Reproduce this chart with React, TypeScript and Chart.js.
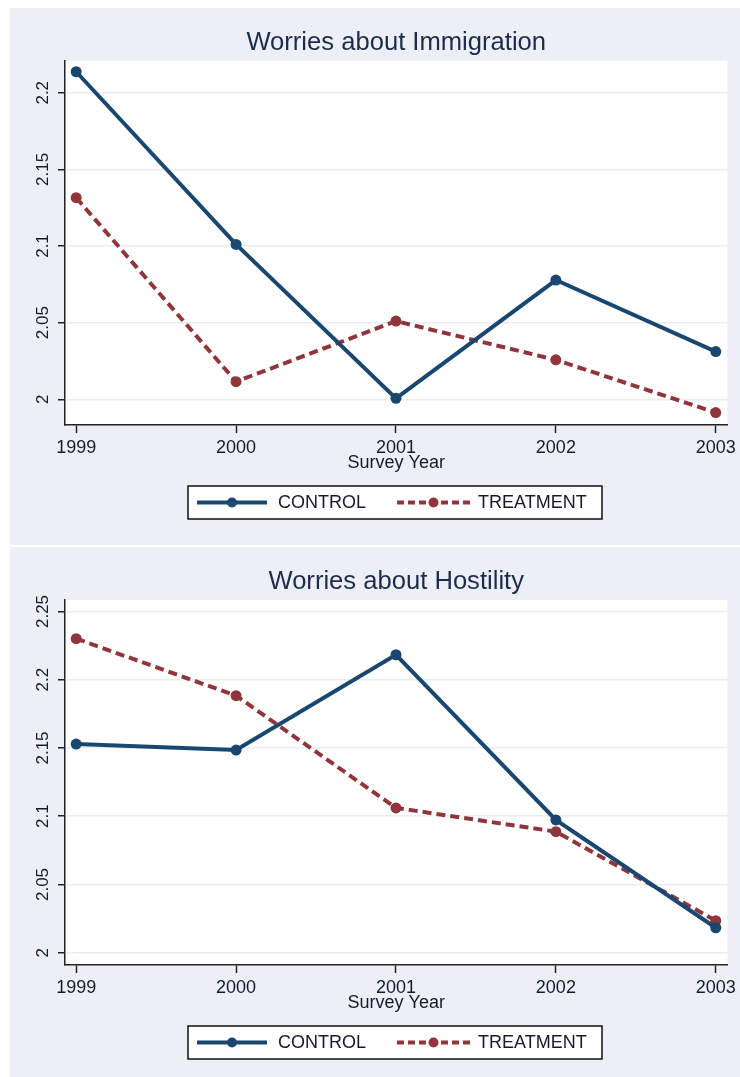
import React, { useEffect, useRef } from 'react';
import { Chart, registerables } from 'chart.js';

Chart.register(...registerables);

// ---------- data ----------
const years = [1999, 2000, 2001, 2002, 2003];
const yearTicks = [1999, 2000, 2001, 2002, 2003];
const seriesNames = ['CONTROL', 'TREATMENT'];

const immigrationControl = [2.2137, 2.101, 2.0006, 2.0778, 2.0311];
const immigrationTreatment = [2.1315, 2.0115, 2.051, 2.0257, 1.9913];
const immigrationTicks = [2, 2.05, 2.1, 2.15, 2.2];

const hostilityControl = [2.1529, 2.1485, 2.2183, 2.0973, 2.0183];
const hostilityTreatment = [2.2301, 2.1883, 2.1061, 2.0887, 2.0235];
const hostilityTicks = [2, 2.05, 2.1, 2.15, 2.2, 2.25];

// ---------- styles ----------
const FONT = '"Liberation Sans", Arial, Helvetica, sans-serif';
const NAVY = '#1A476F';
const MAROON = '#90353B';
const TEXT = '#161a2c';
const TITLE = '#1E2C4C';
const PANEL_BG = '#ECF0F6';
const AXIS = '#222222';

type PanelProps = {
  title: string;
  control: number[];
  treatment: number[];
  yTicks: number[];
  yMin: number;
  yMax: number;
  top: number;
  height: number;
  chartBottom: number;
};

function Panel({ title, control, treatment, yTicks, yMin, yMax, top, height, chartBottom }: PanelProps) {
  const ref = useRef<HTMLCanvasElement>(null);

  useEffect(() => {
    const canvas = ref.current!;
    const decor = {
      id: 'decor',
      beforeDraw(chart: any) {
        const { ctx, chartArea } = chart;
        ctx.save();
        ctx.fillStyle = '#ffffff';
        ctx.fillRect(chartArea.left, chartArea.top, chartArea.right - chartArea.left, chartArea.bottom - chartArea.top);
        ctx.restore();
      },
      afterDraw(chart: any) {
        const { ctx, chartArea } = chart;
        const ys = chart.scales.y;
        // rotated y tick labels
        ctx.save();
        ctx.font = `17px ${FONT}`;
        ctx.fillStyle = TEXT;
        ctx.textAlign = 'center';
        ctx.textBaseline = 'middle';
        ys.ticks.forEach((t: any) => {
          const p = ys.getPixelForValue(t.value);
          ctx.save();
          ctx.translate(chartArea.left - 22, p);
          ctx.rotate(-Math.PI / 2);
          ctx.fillText(String(t.value), 0, 0);
          ctx.restore();
        });
        ctx.restore();

        // legend
        const bx = 178, bw = 414, bh = 33;
        const by = chartArea.bottom + 61;
        const cy = by + bh / 2;
        ctx.save();
        ctx.fillStyle = '#ffffff';
        ctx.fillRect(bx, by, bw, bh);
        ctx.strokeStyle = '#111111';
        ctx.lineWidth = 1.5;
        ctx.strokeRect(bx, by, bw, bh);
        const items = [
          { x0: 187, x1: 257, tx: 268 },
          { x0: 387, x1: 460, tx: 468 },
        ];
        chart.data.datasets.forEach((ds: any, i: number) => {
          const it = items[i];
          ctx.save();
          ctx.strokeStyle = ds.borderColor;
          ctx.lineWidth = 4;
          ctx.setLineDash(i === 1 ? [7, 4] : []);
          ctx.beginPath();
          ctx.moveTo(it.x0, cy);
          ctx.lineTo(it.x1, cy);
          ctx.stroke();
          ctx.setLineDash([]);
          ctx.fillStyle = ds.borderColor;
          ctx.beginPath();
          ctx.arc((it.x0 + it.x1) / 2, cy, 5, 0, Math.PI * 2);
          ctx.fill();
          ctx.fillStyle = TEXT;
          ctx.font = `18px ${FONT}`;
          ctx.textAlign = 'left';
          ctx.textBaseline = 'middle';
          ctx.fillText(ds.label, it.tx, cy + 1);
          ctx.restore();
        });
        ctx.restore();
      },
    };

    const mk = (vals: number[]) => years.map((yr, i) => ({ x: yr, y: vals[i] }));

    const chart = new Chart(canvas, {
      type: 'line',
      data: {
        datasets: [
          {
            label: seriesNames[0],
            data: mk(control),
            borderColor: NAVY,
            backgroundColor: NAVY,
            borderWidth: 4,
            pointRadius: 5.5,
            pointBackgroundColor: NAVY,
            pointBorderWidth: 0,
            tension: 0,
          },
          {
            label: seriesNames[1],
            data: mk(treatment),
            borderColor: MAROON,
            backgroundColor: MAROON,
            borderWidth: 4,
            borderDash: [9, 5],
            pointRadius: 5.5,
            pointBackgroundColor: MAROON,
            pointBorderWidth: 0,
            tension: 0,
          },
        ],
      },
      plugins: [decor],
      options: {
        animation: false,
        responsive: false,
        devicePixelRatio: 1,
        layout: { padding: { top: 0, left: 0, right: 12.3, bottom: height - chartBottom - 55 } },
        plugins: {
          legend: { display: false },
          tooltip: { enabled: false },
          title: {
            display: true,
            text: title,
            fullSize: false,
            color: TITLE,
            font: { family: FONT, size: 25.6, weight: 'normal', lineHeight: 1.2 },
            padding: { top: 20, bottom: 2.3 },
          },
        },
        scales: {
          x: {
            type: 'linear',
            min: 1998.93,
            max: 2003.073,
            afterBuildTicks: (s: any) => {
              s.ticks = yearTicks.map((v) => ({ value: v }));
            },
            afterFit: (s: any) => {
              s.height = 55;
            },
            grid: { drawOnChartArea: false, drawTicks: true, tickLength: 8, tickColor: AXIS, tickWidth: 1.5 },
            border: { display: true, color: AXIS, width: 1.5 },
            ticks: {
              autoSkip: false,
              maxRotation: 0,
              minRotation: 0,
              padding: 4,
              color: TEXT,
              font: { family: FONT, size: 18 },
              callback: (v: any) => String(v),
            },
            title: {
              display: true,
              text: 'Survey Year',
              color: TEXT,
              font: { family: FONT, size: 18, lineHeight: 1.2 },
              padding: { top: 0, bottom: 6 },
            },
          },
          y: {
            type: 'linear',
            min: yMin,
            max: yMax,
            afterBuildTicks: (s: any) => {
              s.ticks = yTicks.map((v) => ({ value: v }));
            },
            afterFit: (s: any) => {
              s.width = 55;
            },
            grid: { color: '#E8EEF4', lineWidth: 1.5, drawTicks: true, tickLength: 7, tickColor: AXIS, tickWidth: 1.5 },
            border: { display: true, color: AXIS, width: 1.5 },
            ticks: { display: false },
          },
        },
      } as any,
    });
    return () => chart.destroy();
  }, []);

  return (
    <div style={{ position: 'absolute', left: 10, top, width: 730, height, background: PANEL_BG }}>
      <canvas ref={ref} width={730} height={height} style={{ display: 'block', width: 730, height }} />
    </div>
  );
}

export default function App() {
  return (
    <div style={{ position: 'absolute', left: 0, top: 0, width: 740, height: 1077, background: '#ffffff', overflow: 'hidden' }}>
      <Panel
        title="Worries about Immigration"
        control={immigrationControl}
        treatment={immigrationTreatment}
        yTicks={immigrationTicks}
        yMin={1.9832}
        yMax={2.2207}
        top={8}
        height={537}
        chartBottom={417}
      />
      <Panel
        title="Worries about Hostility"
        control={hostilityControl}
        treatment={hostilityTreatment}
        yTicks={hostilityTicks}
        yMin={1.991}
        yMax={2.2584}
        top={547}
        height={530}
        chartBottom={418}
      />
    </div>
  );
}
